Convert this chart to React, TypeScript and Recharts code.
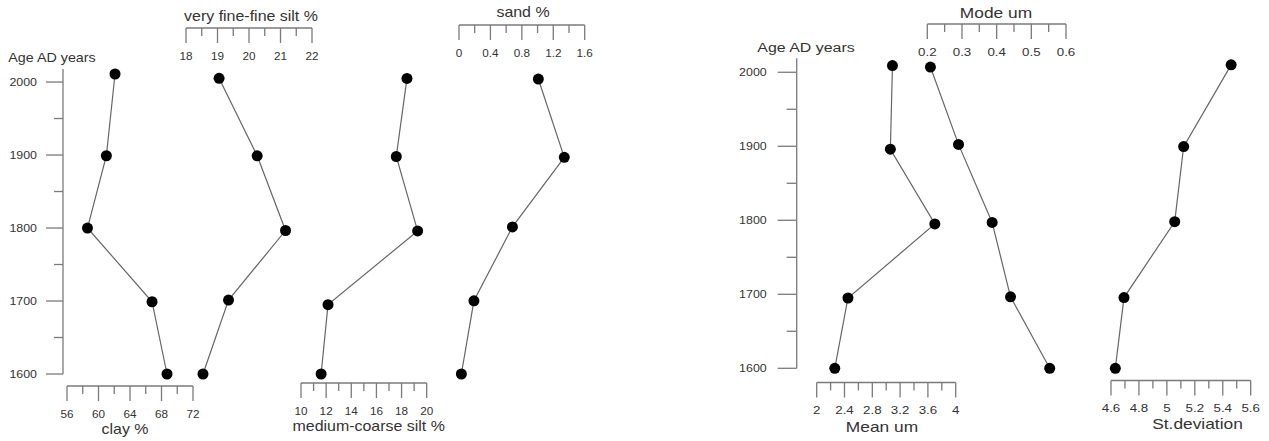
import { ScatterChart, Scatter, XAxis, YAxis } from 'recharts';

const W = 1269;
const H = 441;
const FONT = '"Liberation Sans", Arial, Helvetica, sans-serif';
const AXIS = '#7a7a7a';
const LINE = '#666';
const TEXT = '#333';

// ---- data: left group (texture) ----
const clayYears = [2011, 1899, 1800, 1699, 1600];
const clayValues = [62.1, 61.0, 58.6, 66.8, 68.7];
const vfSiltYears = [2005, 1898, 1795, 1699, 1597];
const vfSiltValues = [19.05, 20.26, 21.16, 19.35, 18.54];
const mcSiltYears = [2005, 1898, 1796, 1695, 1600];
const mcSiltValues = [18.43, 17.58, 19.28, 12.15, 11.6];
const sandYears = [2004, 1896, 1800, 1698, 1597];
const sandValues = [1.01, 1.34, 0.68, 0.19, 0.03];

// ---- data: right group (statistics) ----
const meanYears = [2009, 1896, 1795, 1695, 1600];
const meanValues = [3.09, 3.06, 3.7, 2.45, 2.26];
const modeYears = [2007, 1902, 1796, 1695, 1598];
const modeValues = [0.209, 0.29, 0.387, 0.44, 0.553];
const stdYears = [2010, 1899, 1797, 1694, 1598];
const stdValues = [5.46, 5.12, 5.056, 4.693, 4.631];

// ---- ticks ----
const ageTicks = [1600, 1650, 1700, 1750, 1800, 1850, 1900, 1950, 2000];
const ageLabels = [1600, 1700, 1800, 1900, 2000];
const clayTicks = [56, 58, 60, 62, 64, 66, 68, 70, 72];
const clayLabels = [56, 60, 64, 68, 72];
const vfSiltTicks = [18, 18.5, 19, 19.5, 20, 20.5, 21, 21.5, 22];
const vfSiltLabels = [18, 19, 20, 21, 22];
const mcSiltTicks = [10, 11, 12, 13, 14, 15, 16, 17, 18, 19, 20];
const mcSiltLabels = [10, 12, 14, 16, 18, 20];
const sandTicks = [0, 0.2, 0.4, 0.6, 0.8, 1, 1.2, 1.4, 1.6];
const sandLabels = [0, 0.4, 0.8, 1.2, 1.6];
const meanTicks = [2, 2.2, 2.4, 2.6, 2.8, 3, 3.2, 3.4, 3.6, 3.8, 4];
const meanLabels = [2, 2.4, 2.8, 3.2, 3.6, 4];
const modeTicks = [0.2, 0.25, 0.3, 0.35, 0.4, 0.45, 0.5, 0.55, 0.6];
const modeLabels = [0.2, 0.3, 0.4, 0.5, 0.6];
const stdTicks = [4.6, 4.7, 4.8, 4.9, 5, 5.1, 5.2, 5.3, 5.4, 5.5, 5.6];
const stdLabels = [4.6, 4.8, 5, 5.2, 5.4, 5.6];

const toPoints = (years: number[], values: number[]) =>
  years.map((year, i) => ({ year, v: values[i] }));

function SText({ px, py, text, size, sx, anchor = 'middle' }: any) {
  return (
    <text
      transform={`translate(${px},${py}) scale(${sx},1)`}
      textAnchor={anchor}
      fontSize={size}
      fontFamily={FONT}
      fill={TEXT}
    >
      {text}
    </text>
  );
}

const Dot = (props: any) => <circle cx={props.cx} cy={props.cy} r={5.5} fill="#000" />;
const NoDot = () => <g />;

const leftGroup = { domain: [1600, 2018], yTop: 68.9, y1600: 374, axisX: 63, tickLen: 17, gap: 9, titleX: 52, titleY: 61.7, titleSx: 1.06, data: toPoints(clayYears, clayValues), xDomain: [56, 72] };
const rightGroup = { domain: [1600, 2019], yTop: 58.2, y1600: 368.3, axisX: 796.7, tickLen: 19, gap: 11, titleX: 806, titleY: 51.5, titleSx: 1.18, data: toPoints(meanYears, meanValues), xDomain: [2, 4] };

const panels = [
  { g: leftGroup, data: toPoints(clayYears, clayValues), domain: [56, 72], ticks: clayTicks, labels: clayLabels, x0: 67, x1: 193, axisY: 386, side: 'bottom', title: 'clay %', tx: 125, ty: 434, tsx: 1.14, lsx: 1.02 },
  { g: leftGroup, data: toPoints(vfSiltYears, vfSiltValues), domain: [18, 22], ticks: vfSiltTicks, labels: vfSiltLabels, x0: 186, x1: 312, axisY: 28, side: 'top', title: 'very fine-fine silt %', tx: 251, ty: 21, tsx: 1.14, lsx: 1.02 },
  { g: leftGroup, data: toPoints(mcSiltYears, mcSiltValues), domain: [10, 20], ticks: mcSiltTicks, labels: mcSiltLabels, x0: 301, x1: 426.7, axisY: 383, side: 'bottom', title: 'medium-coarse silt %', tx: 368.7, ty: 430.7, tsx: 1.14, lsx: 1.02 },
  { g: leftGroup, data: toPoints(sandYears, sandValues), domain: [0, 1.6], ticks: sandTicks, labels: sandLabels, x0: 459, x1: 584.7, axisY: 25, side: 'top', title: 'sand %', tx: 523, ty: 17.3, tsx: 1.14, lsx: 1.02 },
  { g: rightGroup, data: toPoints(meanYears, meanValues), domain: [2, 4], ticks: meanTicks, labels: meanLabels, x0: 816.7, x1: 955.7, axisY: 382.5, side: 'bottom', title: 'Mean um', tx: 882, ty: 432, tsx: 1.24, lsx: 1.16 },
  { g: rightGroup, data: toPoints(modeYears, modeValues), domain: [0.2, 0.6], ticks: modeTicks, labels: modeLabels, x0: 927.3, x1: 1066, axisY: 24, side: 'top', title: 'Mode um', tx: 996, ty: 17.5, tsx: 1.24, lsx: 1.16 },
  { g: rightGroup, data: toPoints(stdYears, stdValues), domain: [4.6, 5.6], ticks: stdTicks, labels: stdLabels, x0: 1111, x1: 1250.7, axisY: 380.5, side: 'bottom', title: 'St.deviation', tx: 1197.5, ty: 429, tsx: 1.24, lsx: 1.16 },
];

function Panel({ p }: any) {
  const g = p.g;
  const top = p.side === 'top';
  const margin = top
    ? { top: 0, bottom: H - g.y1600, left: p.x0, right: W - p.x1 }
    : { top: g.yTop, bottom: 0, left: p.x0, right: W - p.x1 };
  const padding = top ? { top: g.yTop - p.axisY, bottom: 0 } : { top: 0, bottom: p.axisY - g.y1600 };
  const renderTick = (t: any) => {
    const major = p.labels.includes(t.payload.value);
    return (
      <g>
        <line x1={t.x} x2={t.x} y1={t.y} y2={t.y + (major ? 15 : 8)} stroke={AXIS} strokeWidth={1.3} />
        {major && <SText px={t.x} py={t.y + 31.5} text={String(t.payload.value)} size={11.5} sx={p.lsx} />}
      </g>
    );
  };
  return (
    <div style={{ position: 'absolute', left: 0, top: 0 }}>
      <ScatterChart width={W} height={H} margin={margin}>
        <XAxis
          type="number"
          dataKey="v"
          domain={p.domain}
          ticks={p.ticks}
          interval={0}
          orientation={p.side}
          height={top ? p.axisY : H - p.axisY}
          tickSize={0}
          tickMargin={0}
          tickLine={false}
          axisLine={{ stroke: AXIS, strokeWidth: 1.3 }}
          tick={renderTick}
          label={{ content: () => <SText px={p.tx} py={p.ty} text={p.title} size={14} sx={p.tsx} /> }}
        />
        <YAxis type="number" dataKey="year" domain={g.domain} hide padding={padding} />
        <Scatter
          data={p.data}
          isAnimationActive={false}
          line={{ stroke: LINE, strokeWidth: 1.2 }}
          shape={Dot}
        />
      </ScatterChart>
    </div>
  );
}

function AgeAxis({ g }: any) {
  const renderTick = (t: any) => {
    const major = ageLabels.includes(t.payload.value);
    const len = major ? g.tickLen : Math.round(g.tickLen * 0.53);
    return (
      <g>
        <line x1={t.x - len} x2={t.x} y1={t.y} y2={t.y} stroke={AXIS} strokeWidth={1.3} />
        {major && (
          <SText px={t.x - g.tickLen - g.gap} py={t.y + 4} text={String(t.payload.value)} size={11.5} sx={1.08} anchor="end" />
        )}
      </g>
    );
  };
  return (
    <div style={{ position: 'absolute', left: 0, top: 0 }}>
      <ScatterChart
        width={W}
        height={H}
        margin={{ top: g.yTop, bottom: H - g.y1600, left: g.axisX - 80, right: W - g.axisX - 20 }}
      >
        <XAxis type="number" dataKey="v" domain={g.xDomain} hide />
        <YAxis
          type="number"
          dataKey="year"
          domain={g.domain}
          ticks={ageTicks}
          interval={0}
          width={80}
          tickSize={0}
          tickMargin={0}
          tickLine={false}
          axisLine={{ stroke: AXIS, strokeWidth: 1.3 }}
          tick={renderTick}
          label={{ content: () => <SText px={g.titleX} py={g.titleY} text="Age AD years" size={13.5} sx={g.titleSx} /> }}
        />
        <Scatter data={g.data} isAnimationActive={false} shape={NoDot} />
      </ScatterChart>
    </div>
  );
}

export default function App() {
  return (
    <div style={{ position: 'absolute', left: 0, top: 0, width: W, height: H, background: '#fff' }}>
      <AgeAxis g={leftGroup} />
      <AgeAxis g={rightGroup} />
      {panels.map((p, i) => (
        <Panel key={i} p={p} />
      ))}
    </div>
  );
}
